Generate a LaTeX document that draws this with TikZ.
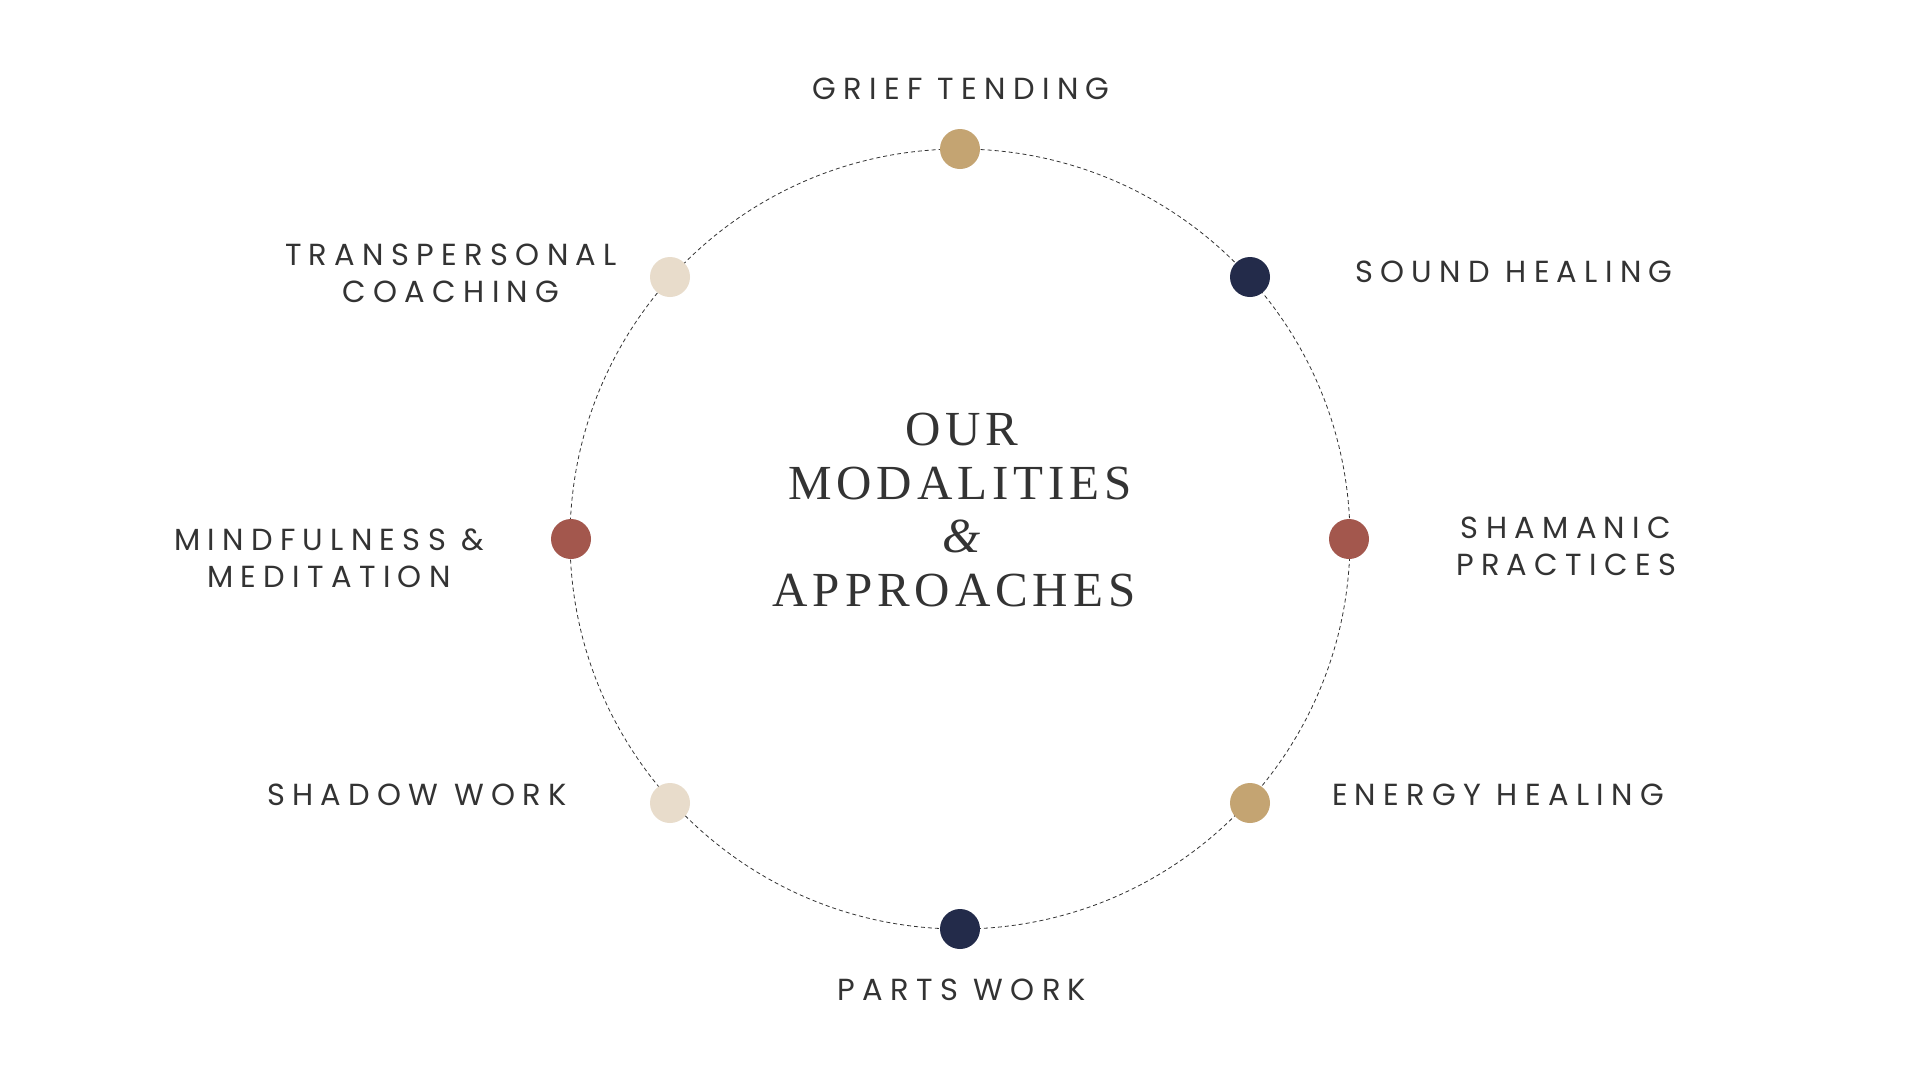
\documentclass[tikz,border=0pt]{standalone}
\usepackage{fontspec}
\newfontfamily\labelfont[LetterSpace=24]{Poppins}
\newfontfamily\titlefont[LetterSpace=10]{Liberation Serif}
\definecolor{gold}{HTML}{C4A472}
\definecolor{navy}{HTML}{232B4A}
\definecolor{rust}{HTML}{A3574D}
\definecolor{beige}{HTML}{E8DCCB}
\definecolor{ink}{HTML}{333333}
\tikzset{
  dot/.style={circle, minimum size=40pt, inner sep=0pt, draw=none},
  ring/.style={draw=ink, line width=0.8pt, dash pattern=on 4pt off 3pt},
  lbl/.style={text=ink, font=\labelfont\fontsize{30.5}{37}\selectfont, align=center, inner sep=0pt},
  ttl/.style={text=ink, font=\titlefont\fontsize{49}{54}\selectfont, align=center, inner sep=0pt},
}
\begin{document}
\begin{tikzpicture}[x=1pt,y=-1pt]
\useasboundingbox (0,0) rectangle (1920,1080);
\fill[white] (0,0) rectangle (1920,1080);
\coordinate (c) at (960,539);
\draw[ring] (c) circle [radius=390pt];
% dots
\node[dot, fill=gold]  (d1) at (960,149) {};
\node[dot, fill=navy]  (d2) at (1250,277) {};
\node[dot, fill=rust]  (d3) at (1349,539) {};
\node[dot, fill=gold]  (d4) at (1250,803) {};
\node[dot, fill=navy]  (d5) at (960,929) {};
\node[dot, fill=beige] (d6) at (670,803) {};
\node[dot, fill=rust]  (d7) at (571,539) {};
\node[dot, fill=beige] (d8) at (670,277) {};
% labels
\node[lbl] (l1) at (961,89) {GRIEF TENDING};
\node[lbl] (l2) at (1514,272) {SOUND HEALING};
\node[lbl] (l3) at (1566,546) {SHAMANIC\\PRACTICES};
\node[lbl] (l4) at (1498,795) {ENERGY HEALING};
\node[lbl] (l5) at (962,990) {PARTS WORK};
\node[lbl] (l6) at (417,795) {SHADOW WORK};
\node[lbl] (l7) at (329,558) {MINDFULNESS \&\\MEDITATION};
\node[lbl] (l8) at (451,273) {TRANSPERSONAL\\COACHING};
% title
\node[ttl] (t1) at (962,430) {OUR};
\node[ttl] (t2) at (960,484) {MODALITIES};
\node[ttl] (t3) at (962,536) {\itshape\&};
\node[ttl] (t4) at (954,591) {APPROACHES};
\end{tikzpicture}
\end{document}
